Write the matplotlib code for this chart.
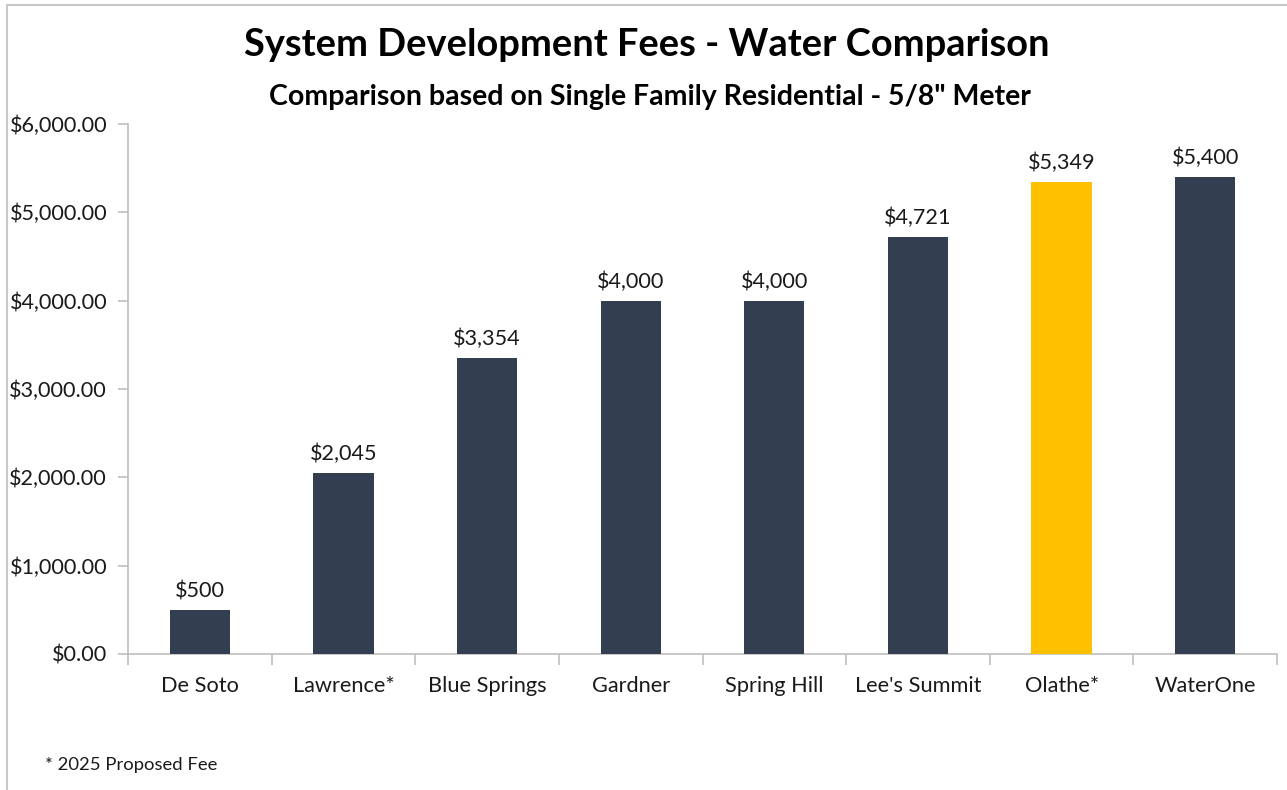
import matplotlib
matplotlib.use("Agg")
import matplotlib.pyplot as plt
from matplotlib.patches import Rectangle
from matplotlib.ticker import FuncFormatter, MultipleLocator

categories = ["De Soto", "Lawrence*", "Blue Springs", "Gardner", "Spring Hill",
              "Lee's Summit", "Olathe*", "WaterOne"]
fees = [500, 2045, 3354, 4000, 4000, 4721, 5349, 5400]
highlight = "Olathe*"

DARK = "#333F50"
GOLD = "#FFC000"
FONT = ["Lato", "DejaVu Sans"]
plt.rcParams["font.family"] = FONT

fig = plt.figure(figsize=(12.87, 7.90), dpi=100)
ax = fig.add_axes([128/1287, 136/790, 1149/1287, 530/790])

x = list(range(len(categories)))
colors = [GOLD if c == highlight else DARK for c in categories]
bars = ax.bar(x, fees, width=0.42, color=colors, zorder=3)

for xi, v in zip(x, fees):
    ax.text(xi, v + 100, f"${v:,.0f}", ha="center", va="bottom", fontsize=15.6, color="#1a1a1a")

ax.set_xlim(-0.5, len(categories) - 0.5)
ax.set_ylim(0, 6000)
ax.yaxis.set_major_locator(MultipleLocator(1000))
ax.yaxis.set_major_formatter(FuncFormatter(lambda v, p: f"${v:,.2f}"))
ax.set_xticks(x)
ax.set_xticklabels(categories)
ax.set_xticks([i + 0.5 for i in range(-1, len(categories))], minor=True)
ax.tick_params(axis="x", which="major", length=0, pad=16, labelsize=15.7, labelcolor="#1a1a1a")
ax.tick_params(axis="x", which="minor", length=8, color="#BFBFBF", width=1.2)
ax.tick_params(axis="y", which="major", length=7, color="#BFBFBF", width=1.2, pad=8,
               labelsize=15.6, labelcolor="#1a1a1a")

for s in ["top", "right"]:
    ax.spines[s].set_visible(False)
for s in ["left", "bottom"]:
    ax.spines[s].set_color("#BFBFBF")
    ax.spines[s].set_linewidth(1.2)

fig.text(647/1287, 1 - 45/790, "System Development Fees - Water Comparison",
         ha="center", va="center", fontsize=27.4, fontweight="bold", color="black")
fig.text(650/1287, 1 - 97/790, "Comparison based on Single Family Residential - 5/8\" Meter",
         ha="center", va="center", fontsize=20.5, fontweight="bold", color="black")
fig.text(45/1287, 1 - 765/790, "* 2025 Proposed Fee", ha="left", va="center",
         fontsize=13.3, color="#1a1a1a")

border = Rectangle((7/1287, -0.01), 1.05, 1 - 5/790 + 0.01, transform=fig.transFigure,
                   fill=False, edgecolor="#C8C8C8", linewidth=1.5, zorder=0)
fig.patches.append(border)

fig.savefig("out.png", dpi=100)
